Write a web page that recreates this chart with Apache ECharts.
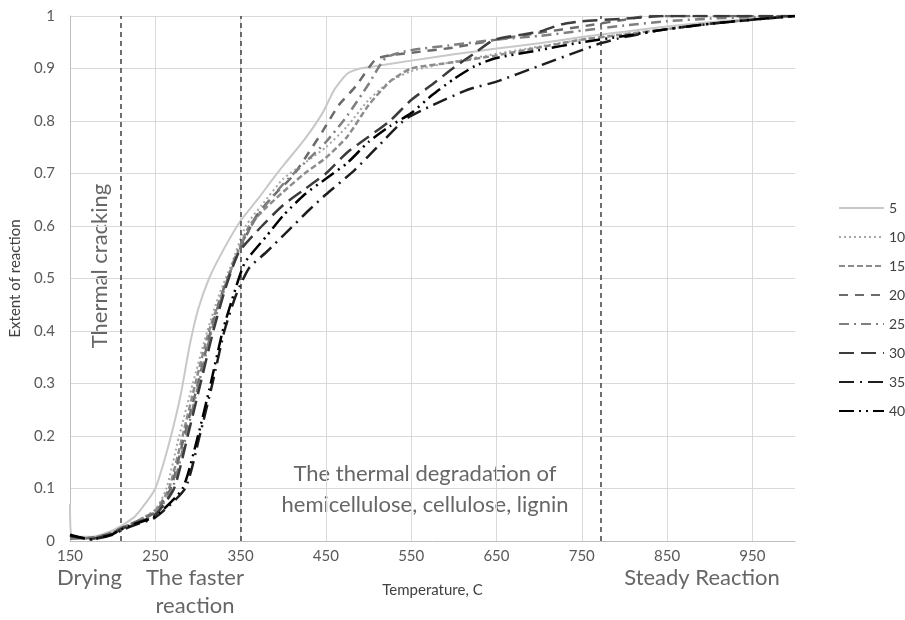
<!DOCTYPE html>
<html>
<head>
<meta charset="utf-8">
<script src="https://cdn.jsdelivr.net/npm/echarts@6/dist/echarts.min.js"></script>
<style>html,body{margin:0;padding:0;background:#fff;}#c{width:905px;height:620px;}</style>
</head>
<body>
<div id="c"></div>
<script>
// ---- data (temperature, extent of reaction) ----
const xTicks = [150, 250, 350, 450, 550, 650, 750, 850, 950];
const phaseLines = [210, 350, 772];
const seriesNames = ['5', '10', '15', '20', '25', '30', '35', '40'];

const t5 = [150, 152, 175, 200, 225, 240, 250, 260, 270, 280, 290, 300, 313, 330, 350, 372, 387, 400, 425, 446, 460, 475, 490, 510, 550, 600, 650, 700, 750, 800, 850, 900, 950, 1000];
const y5 = [0.07, 0.01, 0.008, 0.02, 0.045, 0.075, 0.10, 0.15, 0.21, 0.28, 0.37, 0.44, 0.50, 0.555, 0.61, 0.655, 0.688, 0.715, 0.765, 0.815, 0.86, 0.89, 0.90, 0.905, 0.915, 0.927, 0.938, 0.948, 0.96, 0.97, 0.98, 0.988, 0.995, 1.0];

const t10 = [150, 175, 200, 210, 225, 250, 263, 278, 294, 311, 325, 340, 356, 375, 400, 425, 450, 475, 500, 525, 550, 600, 650, 700, 750, 800, 850, 900, 950, 1000];
const y10 = [0.005, 0.005, 0.015, 0.025, 0.035, 0.06, 0.10, 0.20, 0.30, 0.40, 0.47, 0.53, 0.60, 0.64, 0.69, 0.72, 0.75, 0.79, 0.84, 0.875, 0.895, 0.913, 0.928, 0.942, 0.955, 0.965, 0.975, 0.985, 0.993, 1.0];

const t15 = [150, 175, 200, 210, 225, 250, 266, 282, 297, 313, 328, 342, 360, 380, 400, 425, 450, 475, 500, 525, 550, 600, 650, 700, 750, 800, 850, 900, 950, 1000];
const y15 = [0.005, 0.006, 0.016, 0.025, 0.035, 0.058, 0.10, 0.20, 0.30, 0.40, 0.47, 0.53, 0.60, 0.635, 0.665, 0.70, 0.73, 0.77, 0.83, 0.875, 0.90, 0.912, 0.925, 0.94, 0.955, 0.965, 0.975, 0.985, 0.993, 1.0];

const t20 = [150, 175, 200, 210, 225, 250, 268, 284, 300, 315, 330, 345, 368, 390, 411, 430, 446, 465, 485, 508, 525, 550, 600, 650, 700, 750, 800, 830, 900, 950, 1000];
const y20 = [0.005, 0.006, 0.016, 0.025, 0.035, 0.055, 0.10, 0.20, 0.30, 0.40, 0.48, 0.54, 0.618, 0.66, 0.695, 0.74, 0.78, 0.83, 0.866, 0.917, 0.925, 0.93, 0.94, 0.955, 0.968, 0.98, 0.993, 1.0, 1.0, 1.0, 1.0];

const t25 = [150, 175, 200, 210, 225, 250, 270, 286, 301, 316, 331, 346, 370, 400, 425, 450, 475, 500, 520, 550, 600, 650, 700, 750, 800, 850, 900, 950, 1000];
const y25 = [0.006, 0.005, 0.015, 0.024, 0.034, 0.052, 0.10, 0.20, 0.30, 0.40, 0.48, 0.55, 0.62, 0.68, 0.72, 0.76, 0.81, 0.87, 0.92, 0.935, 0.945, 0.955, 0.962, 0.972, 0.982, 0.99, 0.995, 0.998, 1.0];

const t30 = [150, 175, 200, 210, 225, 250, 272, 288, 303, 318, 332, 348, 375, 400, 425, 450, 475, 500, 525, 550, 575, 597, 625, 648, 700, 726, 750, 800, 850, 900, 950, 1000];
const y30 = [0.01, 0.004, 0.014, 0.023, 0.033, 0.05, 0.10, 0.20, 0.30, 0.40, 0.48, 0.55, 0.60, 0.64, 0.67, 0.70, 0.74, 0.77, 0.80, 0.84, 0.87, 0.898, 0.93, 0.955, 0.97, 0.984, 0.99, 0.995, 1.0, 1.0, 1.0, 1.0];

const t35 = [150, 175, 200, 210, 225, 250, 285, 302, 317, 331, 345, 360, 380, 407, 430, 450, 484, 510, 543, 575, 617, 650, 700, 750, 772, 800, 850, 900, 950, 1000];
const y35 = [0.01, 0.003, 0.012, 0.02, 0.03, 0.045, 0.10, 0.20, 0.30, 0.40, 0.47, 0.52, 0.55, 0.593, 0.63, 0.66, 0.707, 0.75, 0.803, 0.83, 0.86, 0.875, 0.905, 0.935, 0.948, 0.96, 0.975, 0.985, 0.993, 1.0];

const t40 = [150, 175, 200, 210, 225, 250, 282, 300, 315, 329, 342, 355, 380, 400, 425, 450, 475, 500, 525, 550, 575, 600, 625, 650, 700, 750, 800, 850, 900, 950, 1000];
const y40 = [0.012, 0.003, 0.013, 0.022, 0.032, 0.047, 0.10, 0.20, 0.30, 0.40, 0.47, 0.53, 0.58, 0.62, 0.66, 0.69, 0.72, 0.76, 0.79, 0.815, 0.85, 0.88, 0.905, 0.92, 0.935, 0.95, 0.962, 0.975, 0.985, 0.993, 1.0];

const temps = [t5, t10, t15, t20, t25, t30, t35, t40];
const vals = [y5, y10, y15, y20, y25, y30, y35, y40];

const styles = [
  {color: '#c8c8c8', width: 2, type: 'solid'},
  {color: '#a6a6a6', width: 2, type: [2, 3]},
  {color: '#8c8c8c', width: 2.5, type: [6, 3]},
  {color: '#6b6b6b', width: 2.5, type: [9, 7]},
  {color: '#7f7f7f', width: 2.5, type: [10, 5, 2, 5]},
  {color: '#3c3c3c', width: 2.5, type: [15, 7]},
  {color: '#1e1e1e', width: 2.5, type: [15, 6, 2, 6]},
  {color: '#000000', width: 2.5, type: [15, 5, 2, 5, 2, 5]}
];

const series = seriesNames.map((n, i) => ({
  name: n,
  type: 'line',
  showSymbol: false,
  symbol: 'none',
  smooth: 0.2,
  data: temps[i].map((t, j) => [t, vals[i][j]]),
  lineStyle: styles[i],
  itemStyle: {color: styles[i].color},
  z: 3 + i
}));

series.push({
  name: 'phases',
  type: 'line',
  data: [],
  silent: true,
  markLine: {
    silent: true,
    symbol: 'none',
    label: {show: false},
    lineStyle: {color: '#404040', type: [5, 4], width: 1.5},
    data: phaseLines.map(v => ({xAxis: v}))
  }
});

const chart = echarts.init(document.getElementById('c'), null, {renderer: 'canvas'});
const txtColor = '#595959';
const ann = {fontFamily: 'Lato', fontSize: 22, fill: '#666666'};
chart.setOption({
  animation: false,
  backgroundColor: '#ffffff',
  grid: {left: 67, right: 110, top: 16, bottom: 79},
  xAxis: {
    type: 'value', min: 150, max: 1000, interval: 100,
    name: 'Temperature, C', nameLocation: 'middle', nameGap: 42,
    nameTextStyle: {fontFamily: 'Lato', fontSize: 15, color: '#404040'},
    axisLine: {show: true, lineStyle: {color: '#bfbfbf', width: 1}},
    axisTick: {show: false},
    axisLabel: {fontFamily: 'Lato', fontSize: 15, color: txtColor, margin: 8, showMaxLabel: false,
      formatter: v => (xTicks.indexOf(v) >= 0 ? String(v) : '')},
    splitLine: {show: true, showMinLine: false, showMaxLine: false, lineStyle: {color: '#d9d9d9', width: 1}}
  },
  yAxis: {
    type: 'value', min: 0, max: 1, interval: 0.1,
    name: 'Extent of reaction', nameLocation: 'middle', nameGap: 47,
    nameTextStyle: {fontFamily: 'Lato', fontSize: 15, color: '#404040'},
    axisLine: {show: true, lineStyle: {color: '#bfbfbf', width: 1}},
    axisTick: {show: false},
    axisLabel: {fontFamily: 'Lato', fontSize: 15, color: txtColor, margin: 15},
    splitLine: {show: true, showMinLine: false, lineStyle: {color: '#d9d9d9', width: 1}}
  },
  legend: {
    orient: 'vertical', left: 833, top: 196,
    data: seriesNames,
    itemWidth: 45, itemHeight: 14, itemGap: 15,
    itemStyle: {opacity: 0},
    textStyle: {fontFamily: 'Lato', fontSize: 14, color: '#404040'}
  },
  graphic: [
    {type: 'text', x: 100, y: 266, rotation: Math.PI / 2, style: Object.assign({text: 'Thermal cracking', align: 'center', verticalAlign: 'middle'}, ann)},
    {type: 'text', x: 425, y: 474, style: Object.assign({text: 'The thermal degradation of', align: 'center', verticalAlign: 'middle'}, ann)},
    {type: 'text', x: 425, y: 505, style: Object.assign({text: 'hemicellulose, cellulose, lignin', align: 'center', verticalAlign: 'middle'}, ann)},
    {type: 'text', x: 57, y: 578, style: Object.assign({text: 'Drying', align: 'left', verticalAlign: 'middle'}, ann)},
    {type: 'text', x: 195, y: 578, style: Object.assign({text: 'The faster', align: 'center', verticalAlign: 'middle'}, ann)},
    {type: 'text', x: 195, y: 606, style: Object.assign({text: 'reaction', align: 'center', verticalAlign: 'middle'}, ann)},
    {type: 'text', x: 702, y: 578, style: Object.assign({text: 'Steady Reaction', align: 'center', verticalAlign: 'middle'}, ann)}
  ],
  series: series
});
</script>
</body>
</html>
